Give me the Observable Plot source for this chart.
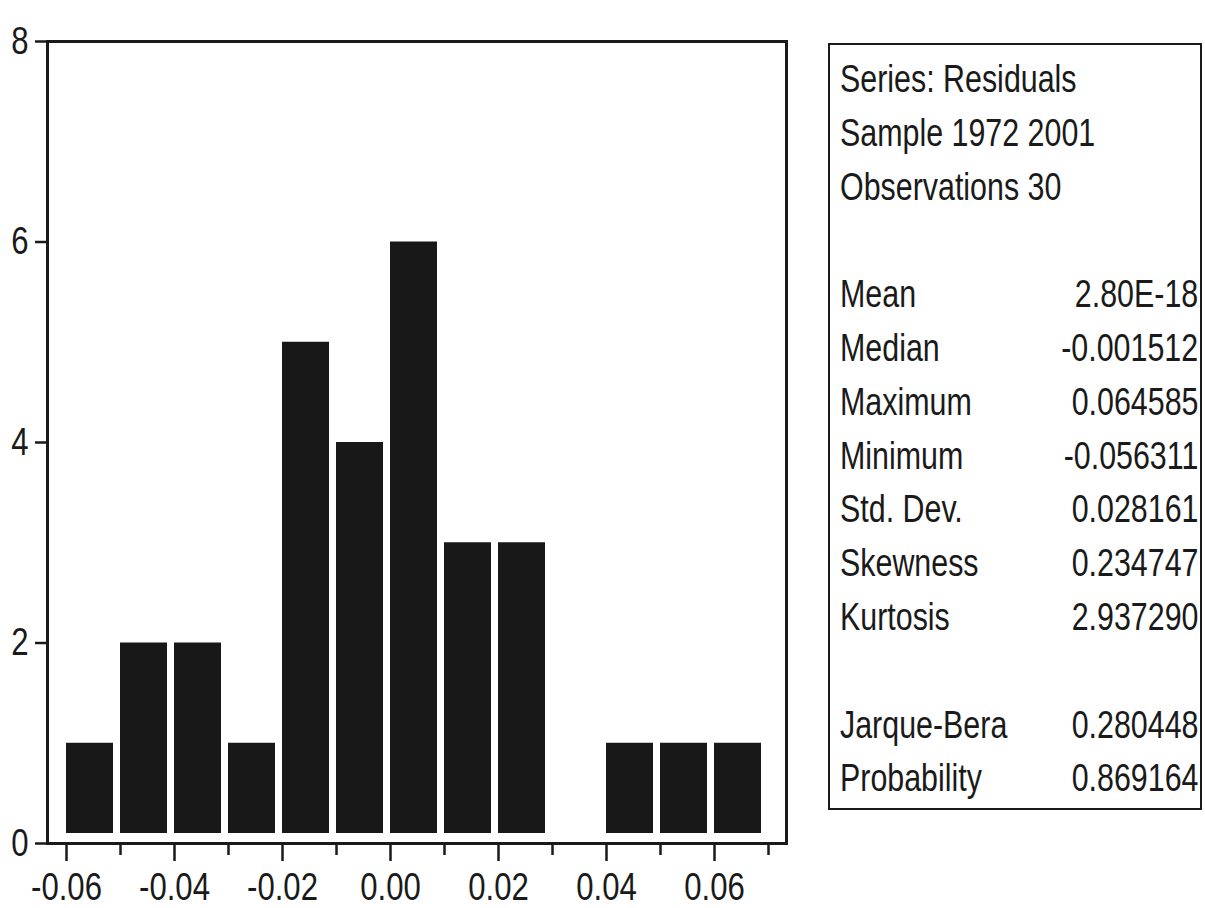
<!DOCTYPE html>
<html>
<head>
<meta charset="utf-8">
<script src="https://cdn.jsdelivr.net/npm/d3@7"></script>
<script src="https://cdn.jsdelivr.net/npm/@observablehq/plot@0.6"></script>
<style>
  html, body { margin: 0; padding: 0; background: #fff; }
  body { width: 1205px; height: 908px; position: relative; overflow: hidden; }
  #chart { position: absolute; left: 0; top: 0; }
  #stats {
    position: absolute; left: 828px; top: 43px; width: 374px; height: 767px;
    box-sizing: border-box; border: 2px solid #1a1a1a;
    padding: 8px 2px 0 10px;
    font-family: 'Liberation Sans', Arial, sans-serif;
    font-size: 38px; line-height: 53.8px; color: #1a1a1a;
  }
  #stats .row { position: relative; height: 53.8px; white-space: nowrap; }
  #stats .row span { position: absolute; top: 0; display: inline-block; transform: scaleX(0.8); }
  #stats .row span.l { left: 0; transform-origin: left center; }
  #stats .row span.r { right: 0; transform-origin: right center; }
</style>
</head>
<body>
<div id="chart"></div>
<div id="stats"></div>
<script>
// Histogram data (bin lower edges, bin upper edges, counts)
const binStarts = [-0.06, -0.05, -0.04, -0.03, -0.02, -0.01, 0.00, 0.01, 0.02, 0.03, 0.04, 0.05, 0.06];
const binEnds   = [-0.05, -0.04, -0.03, -0.02, -0.01, 0.00, 0.01, 0.02, 0.03, 0.04, 0.05, 0.06, 0.07];
const counts    = [1, 2, 2, 1, 5, 4, 6, 3, 3, 0, 1, 1, 1];

// Axis ticks
const xMajorTicks = [-0.06, -0.04, -0.02, 0.00, 0.02, 0.04, 0.06];
const xMinorTicks = [-0.05, -0.03, -0.01, 0.01, 0.03, 0.05, 0.07];
const yTicks = [0, 2, 4, 6, 8];

// Statistics panel
const headerLines = ["Series: Residuals", "Sample 1972 2001", "Observations 30"];
const statLabels = ["Mean", "Median", "Maximum", "Minimum", "Std. Dev.", "Skewness", "Kurtosis"];
const statValues = ["2.80E-18", "-0.001512", "0.064585", "-0.056311", "0.028161", "0.234747", "2.937290"];
const testLabels = ["Jarque-Bera", "Probability"];
const testValues = ["0.280448", "0.869164"];

const bins = binStarts.map((s, i) => ({x1: s, x2: binEnds[i], count: counts[i]}));
const ink = "#1a1a1a";
const fmt = d => d.toFixed(2);

const plot = Plot.plot({
  width: 1205,
  height: 908,
  marginLeft: 47,
  marginRight: 419,
  marginTop: 41,
  marginBottom: 65,
  style: {
    fontFamily: "'Liberation Sans', Arial, sans-serif",
    fontSize: "38px",
    color: ink,
    background: "#fff"
  },
  x: {domain: [-0.063519, 0.073333]},
  y: {domain: [0, 8]},
  marks: [
    Plot.rectY(bins.filter(d => d.count > 0), {
      x1: "x1", x2: "x2", y1: 0, y2: "count",
      fill: "#181818", insetLeft: 0, insetRight: 7, insetBottom: 10
    }),
    Plot.axisX({ticks: xMajorTicks, tickSize: 18, tickPadding: 12, tickFormat: fmt, stroke: ink, strokeWidth: 2.5, label: null}),
    Plot.axisX({ticks: xMinorTicks, tickSize: 12, tickFormat: () => "", stroke: ink, strokeWidth: 2.5, label: null}),
    Plot.axisY({ticks: yTicks, tickSize: 12, tickPadding: 7, tickFormat: d => String(d), stroke: ink, strokeWidth: 2.5, label: null}),
    Plot.frame({stroke: ink, strokeWidth: 3})
  ]
});
// Condense tick label glyphs (narrow typeface look) around each label's anchor
plot.querySelectorAll('g[aria-label$="tick label"] text').forEach(t => {
  const tr = t.getAttribute("transform") || "";
  t.setAttribute("transform", tr + " scale(0.82,1)");
});
document.getElementById("chart").appendChild(plot);

// Build statistics panel
const stats = document.getElementById("stats");
function addRow(left, right) {
  const r = document.createElement("div");
  r.className = "row";
  const a = document.createElement("span"); a.className = "l"; a.textContent = left;
  const b = document.createElement("span"); b.className = "r"; b.textContent = right;
  r.appendChild(a); r.appendChild(b);
  stats.appendChild(r);
}
headerLines.forEach(t => addRow(t, ""));
addRow("\u00a0", "");
statLabels.forEach((t, i) => addRow(t, statValues[i]));
addRow("\u00a0", "");
testLabels.forEach((t, i) => addRow(t, testValues[i]));
</script>
</body>
</html>
